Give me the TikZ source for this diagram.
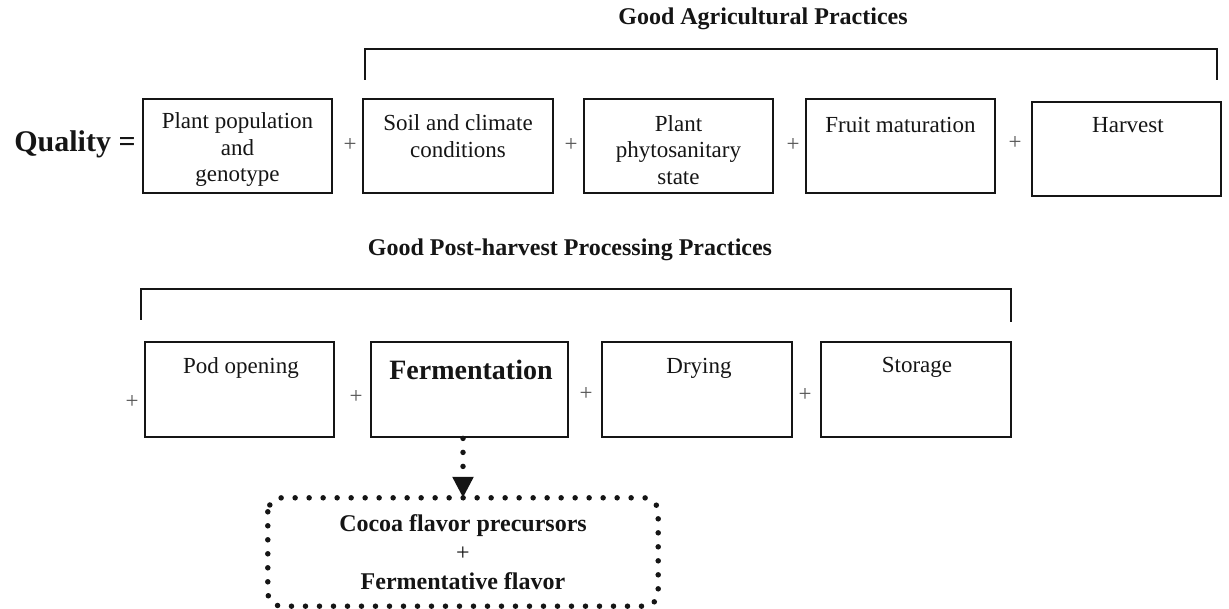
\documentclass[tikz,border=0pt]{standalone}
\usepackage{fontspec}
\setmainfont{Liberation Serif}
\usetikzlibrary{arrows.meta}
\definecolor{ink}{HTML}{151515}
\definecolor{pluscol}{HTML}{555555}
\tikzset{
  box/.style={draw=ink, line width=1.6pt, minimum width=#1, minimum height=94pt, inner sep=0pt},
  box/.default=189pt,
  txt/.style={text=ink, font=\fontsize{23}{26.5}\selectfont, align=center, inner sep=0pt},
  ttl/.style={text=ink, font=\bfseries\fontsize{24}{28}\selectfont, align=center, inner sep=0pt},
  plus/.style={text=pluscol, font=\fontsize{23}{26}\selectfont, inner sep=0pt},
  brk/.style={draw=ink, line width=1.6pt},
  dots/.style={draw=ink, line width=5.5pt, dash pattern=on 0pt off 14pt, line cap=round},
}
\begin{document}
\begin{tikzpicture}[x=1pt,y=-1pt]
\useasboundingbox (0,0) rectangle (1229,609);

% titles
\node[ttl] (gap) at (763,19) {Good Agricultural Practices};
\node[ttl] (gpp) at (570,250) {Good Post-harvest Processing Practices};

% brackets
\draw[brk] (365,80) -- (365,49) -- (1217,49) -- (1217,80);
\draw[brk] (141,320) -- (141,289) -- (1011,289) -- (1011,322);

% top row
\node[text=ink, font=\bfseries\fontsize{30}{34}\selectfont, inner sep=0pt] (q) at (75,144) {Quality =};
\node[box] (b1) at (237.5,146) {};
\node[txt] (t1) at (237.5,150) {Plant population\\and\\genotype};
\node[plus] (p1) at (350,145) {+};
\node[box=190pt] (b2) at (458,146) {};
\node[txt] (t2) at (458,136) {Soil and climate\\conditions};
\node[plus] (p2) at (571,145) {+};
\node[box] (b3) at (678.5,146) {};
\node[txt] (t3) at (678.5,150) {Plant\\phytosanitary\\state};
\node[plus] (p3) at (793,145) {+};
\node[box] (b4) at (900.5,146) {};
\node[txt] (t4) at (900.5,125) {Fruit maturation};
\node[plus] (p4) at (1015,143) {+};
\node[box] (b5) at (1126.5,149) {};
\node[txt] (t5) at (1128,125) {Harvest};

% bottom row
\node[plus] (p5) at (132,402) {+};
\node[box, minimum height=95pt] (c1) at (239.5,389.5) {};
\node[txt] (u1) at (241,368) {Pod opening};
\node[plus] (p6) at (356,397) {+};
\node[box=197pt, minimum height=95pt, line width=2.8pt] (c2) at (469.5,389.5) {};
\node[text=ink, font=\bfseries\fontsize{28}{32}\selectfont, inner sep=0pt] (u2) at (471,370) {Fermentation};
\node[plus] (p7) at (586,394) {+};
\node[box=190pt, minimum height=95pt] (c3) at (697,389.5) {};
\node[txt] (u3) at (699,368) {Drying};
\node[plus] (p8) at (805,395) {+};
\node[box=190pt, minimum height=95pt] (c4) at (916,389.5) {};
\node[txt] (u4) at (917,367) {Storage};

% result box
\node[ttl, minimum width=390pt, minimum height=108pt] (r) at (463,552) {Cocoa flavor precursors\\[1pt]{\mdseries +}\\[1pt]Fermentative flavor};
\draw[dots, rounded corners=14pt] (r.north west) rectangle (r.south east);

% arrow
\draw[dots, -{Triangle[width=20pt,length=21pt]}] (c2.south -| r.north) -- (r.north);
\end{tikzpicture}
\end{document}
